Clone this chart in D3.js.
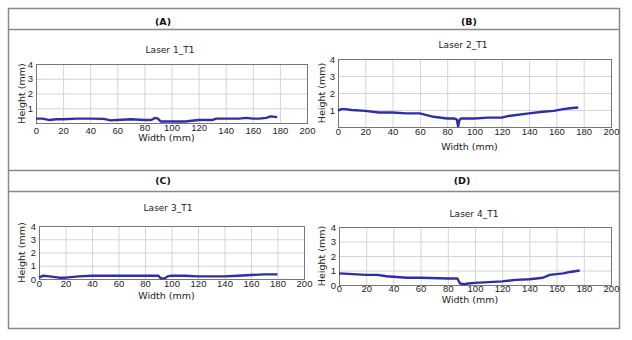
<!DOCTYPE html>
<html lang="en">
<head>
<meta charset="UTF-8">
<title>Laser height profiles</title>
<style>
  body { margin: 0; background: #fff; }
  svg { display: block; font-family: "DejaVu Sans", Verdana, sans-serif; }
  .grid line { stroke: #d4d4d4; stroke-width: 1; }
  .grid .domain { display: none; }
  .axis .domain { display: none; }
  .axis text { fill: #222; font-size: 9.5px; }
</style>
</head>
<body>
<div id="chart"></div>
<script src="https://d3js.org/d3.v7.min.js"></script>
<script>
// readings (width mm, height mm)
const widthA = [0, 5, 10, 15, 20, 30, 40, 50, 55, 60, 70, 80, 85, 88, 90, 92, 100, 110, 115, 120, 130, 133, 140, 150, 155, 160, 165, 170, 173, 178];
const heightA = [0.3, 0.3, 0.2, 0.25, 0.25, 0.3, 0.3, 0.28, 0.18, 0.2, 0.25, 0.2, 0.2, 0.35, 0.3, 0.1, 0.1, 0.1, 0.15, 0.2, 0.2, 0.3, 0.3, 0.3, 0.35, 0.3, 0.3, 0.35, 0.45, 0.4];

const widthB = [0, 2, 5, 10, 20, 30, 40, 50, 60, 65, 70, 80, 85, 87, 88, 89, 90, 100, 110, 120, 125, 140, 150, 158, 165, 170, 176];
const heightB = [0.95, 1.05, 1.05, 1.0, 0.95, 0.85, 0.85, 0.8, 0.8, 0.7, 0.6, 0.5, 0.5, 0.45, 0.05, 0.4, 0.5, 0.5, 0.55, 0.55, 0.65, 0.8, 0.9, 0.95, 1.05, 1.1, 1.15];

const widthC = [0, 3, 8, 15, 20, 30, 40, 60, 80, 90, 92, 95, 97, 100, 110, 120, 140, 150, 160, 170, 180];
const heightC = [0.1, 0.25, 0.2, 0.1, 0.1, 0.2, 0.25, 0.25, 0.25, 0.25, 0.05, 0.05, 0.2, 0.25, 0.25, 0.2, 0.2, 0.25, 0.3, 0.35, 0.35];

const widthD = [0, 10, 20, 28, 35, 50, 60, 80, 87, 89, 92, 95, 100, 110, 120, 130, 140, 150, 155, 160, 165, 170, 177];
const heightD = [0.8, 0.75, 0.7, 0.7, 0.6, 0.5, 0.5, 0.45, 0.45, 0.1, 0.05, 0.1, 0.15, 0.2, 0.25, 0.35, 0.4, 0.5, 0.7, 0.75, 0.8, 0.9, 1.0];

const panelLetters = ["(A)", "(B)", "(C)", "(D)"];
const panelTitles = ["Laser 1_T1", "Laser 2_T1", "Laser 3_T1", "Laser 4_T1"];
const xTicks = [0, 20, 40, 60, 80, 100, 120, 140, 160, 180, 200];
const yTicks = [0, 1, 2, 3, 4];

const W = 632, H = 340;

const svg = d3.select("#chart").append("svg")
  .attr("width", W)
  .attr("height", H);

svg.append("rect").attr("width", W).attr("height", H).attr("fill", "#fff");

// outer table frame
const frame = svg.append("g").attr("stroke", "#888").attr("fill", "none").attr("stroke-width", 1.5);
frame.append("rect").attr("x", 8.5).attr("y", 8.5).attr("width", 611).attr("height", 320);
[29.5, 170.5, 191.5].forEach(y => {
  frame.append("line").attr("x1", 8.5).attr("x2", 619.5).attr("y1", y).attr("y2", y);
});

// header letters
const headerPos = [[163, 22], [469, 22], [163, 181], [462, 181]];
panelLetters.forEach((t, i) => {
  svg.append("text")
    .attr("x", headerPos[i][0]).attr("y", headerPos[i][1])
    .attr("dy", "0.35em")
    .attr("text-anchor", "middle")
    .attr("font-size", "9.5px")
    .attr("font-weight", "bold")
    .attr("fill", "#111")
    .text(t);
});

// plot boxes for each panel
const boxes = [
  { left: 36, right: 307, top: 64, bottom: 123, pad: 4.5, titleX: 170, titleY: 50, labelY: 138, yLabelX: 22, showZero: false },
  { left: 338, right: 611, top: 59, bottom: 127, pad: 1, titleX: 463, titleY: 45, labelY: 147, yLabelX: 322, showZero: false },
  { left: 39, right: 304, top: 226, bottom: 279, pad: 1.5, titleX: 168, titleY: 208, labelY: 296, yLabelX: 22, showZero: true },
  { left: 339, right: 611, top: 227, bottom: 285, pad: 0, titleX: 474, titleY: 214, labelY: 300, yLabelX: 322, showZero: true }
];
const series = [
  [widthA, heightA],
  [widthB, heightB],
  [widthC, heightC],
  [widthD, heightD]
];

boxes.forEach((b, i) => {
  const g = svg.append("g");
  const x = d3.scaleLinear().domain([0, 200]).range([b.left, b.right]);
  const y = d3.scaleLinear().domain([0, 4]).range([b.bottom, b.top]);

  // gridlines
  g.append("g").attr("class", "grid")
    .attr("transform", `translate(0,${b.bottom})`)
    .call(d3.axisBottom(x).tickValues(xTicks).tickSize(-(b.bottom - b.top)).tickFormat(""));
  g.append("g").attr("class", "grid")
    .attr("transform", `translate(${b.left},0)`)
    .call(d3.axisLeft(y).tickValues(yTicks).tickSize(-(b.right - b.left)).tickFormat(""));

  // plot border
  g.append("rect")
    .attr("x", b.left + 0.5).attr("y", b.top + 0.5)
    .attr("width", b.right - b.left).attr("height", b.bottom - b.top)
    .attr("fill", "none").attr("stroke", "#777").attr("stroke-width", 1);

  // axes
  const xa = g.append("g").attr("class", "axis")
    .attr("transform", `translate(0,${b.bottom})`)
    .call(d3.axisBottom(x).tickValues(xTicks).tickSize(0).tickPadding(b.pad).tickFormat(d3.format("d")));
  if (i === 0) {
    // in panel A the middle labels sit a little higher, as in the original
    xa.selectAll(".tick text").filter(d => d >= 80 && d <= 120).attr("y", 1);
  }
  g.append("g").attr("class", "axis")
    .attr("transform", `translate(${b.left},0)`)
    .call(d3.axisLeft(y).tickValues(b.showZero ? yTicks : yTicks.slice(1)).tickSize(0).tickPadding(3).tickFormat(d3.format("d")));

  // line
  const pts = series[i][0].map((w, k) => [w, series[i][1][k]]);
  g.append("path")
    .datum(pts)
    .attr("fill", "none")
    .attr("stroke", "#2e2ea8")
    .attr("stroke-width", 2.4)
    .attr("stroke-linejoin", "round")
    .attr("d", d3.line().x(d => x(d[0])).y(d => y(d[1])));

  // titles and labels
  g.append("text")
    .attr("x", b.titleX).attr("y", b.titleY).attr("dy", "0.35em")
    .attr("text-anchor", "middle").attr("font-size", "9px").attr("fill", "#222")
    .text(panelTitles[i]);
  g.append("text")
    .attr("x", (b.left + b.right) / 2 - 5).attr("y", b.labelY).attr("dy", "0.35em")
    .attr("text-anchor", "middle").attr("font-size", "9.5px").attr("fill", "#222")
    .text("Width (mm)");
  g.append("text")
    .attr("transform", `translate(${b.yLabelX},${(b.top + b.bottom) / 2}) rotate(-90)`)
    .attr("dy", "0.35em")
    .attr("text-anchor", "middle").attr("font-size", "9.5px").attr("fill", "#222")
    .text("Height (mm)");
});
</script>
</body>
</html>
